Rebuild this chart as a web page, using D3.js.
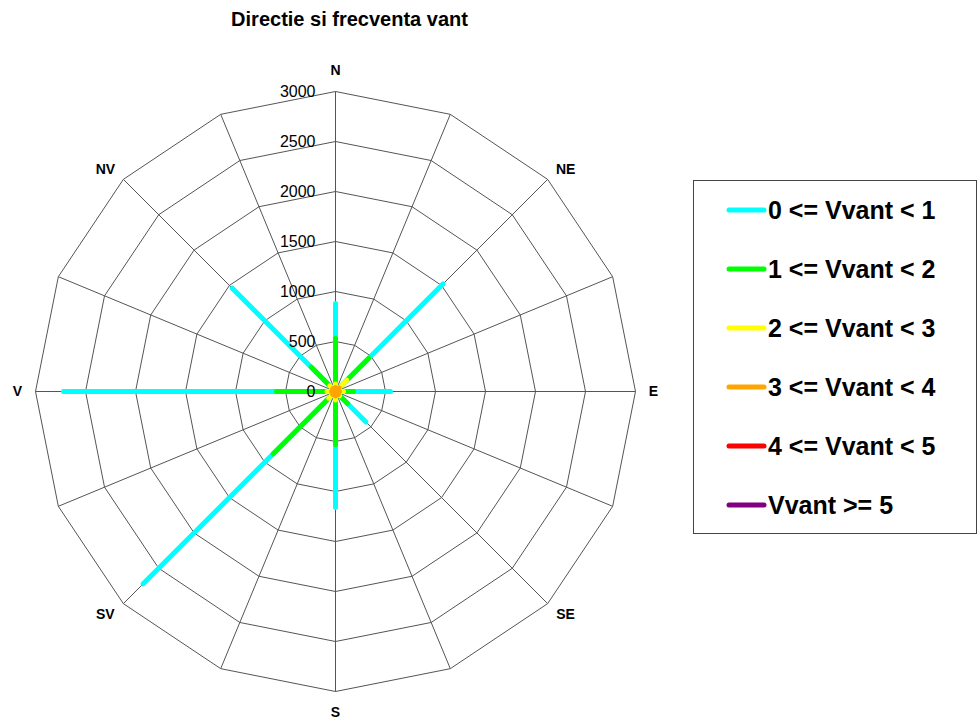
<!DOCTYPE html>
<html>
<head>
<meta charset="utf-8">
<script src="https://cdn.jsdelivr.net/npm/d3@7"></script>
<style>
  body { margin: 0; background: #fff; }
  text { font-family: "Liberation Sans", Arial, sans-serif; }
</style>
</head>
<body>
<div id="chart"></div>
<script>
// directions (16 sectors), only main ones get a label
const directions = ["N","NNE","NE","ENE","E","ESE","SE","SSE","S","SSV","SV","VSV","V","VNV","NV","NNV"];
const dirLabels = ["N","","NE","","E","","SE","","S","","SV","","V","","NV",""];

// frequency per direction, one array per speed class
const v0_1 = [880,0,1520,0,550,0,430,0,1160,0,2720,0,2720,0,1460,0];
const v1_2 = [530,0,470,0,180,0,170,0,530,0,880,0,590,0,345,0];
const v2_3 = [75,0,160,0,80,0,60,0,85,0,95,0,85,0,80,0];
const v3_4 = [40,0,50,0,40,0,40,0,45,0,40,0,40,0,40,0];
const v4_5 = [0,0,0,0,0,0,0,0,0,0,0,0,0,0,0,0];
const v5up = [0,0,0,0,0,0,0,0,0,0,0,0,0,0,0,0];

const seriesNames = ["0 <= Vvant < 1","1 <= Vvant < 2","2 <= Vvant < 3","3 <= Vvant < 4","4 <= Vvant < 5","Vvant >= 5"];
const seriesValues = [v0_1, v1_2, v2_3, v3_4, v4_5, v5up];
const colors = ["#00FFFF","#00FF00","#FFFF00","#FFA500","#FF0000","#800080"];

const radialTicks = [0,500,1000,1500,2000,2500,3000];

const width = 980, height = 722;
const cx = 335.5, cy = 391.5;

const svg = d3.select("#chart")
    .append("svg")
    .attr("width", width)
    .attr("height", height);

//scales
const r = d3.scaleLinear().domain([0,3000]).range([0,300]);
const angle = d3.scaleBand().domain(directions).range([0, 2*Math.PI]).align(0).paddingInner(0).paddingOuter(0);
const ang = d => angle(d); // start of band = direction angle

const px = (a, rad) => cx + rad*Math.sin(a);
const py = (a, rad) => cy - rad*Math.cos(a);

//grid
const grid = svg.append("g")
    .attr("fill","none")
    .attr("stroke","#555")
    .attr("stroke-width",1);

grid.selectAll("polygon")
    .data(radialTicks.slice(1))
    .enter()
    .append("polygon")
    .attr("points", function(t){
        return directions.map(d => px(ang(d), r(t)) + "," + py(ang(d), r(t))).join(" ");
    });

grid.selectAll("line")
    .data(directions)
    .enter()
    .append("line")
    .attr("x1", cx).attr("y1", cy)
    .attr("x2", d => px(ang(d), r(3000)))
    .attr("y2", d => py(ang(d), r(3000)));

//data spokes
const layers = svg.append("g")
    .selectAll("g")
    .data(seriesValues)
    .enter()
    .append("g")
    .attr("stroke", (d,i) => colors[i])
    .attr("stroke-width", 5)
    .attr("stroke-linecap","round");

layers.selectAll("line")
    .data(d => d.map((v,i) => ({dir: directions[i], v: v})).filter(o => o.v > 0))
    .enter()
    .append("line")
    .attr("x1", cx).attr("y1", cy)
    .attr("x2", d => px(ang(d.dir), r(d.v)))
    .attr("y2", d => py(ang(d.dir), r(d.v)));

//radial tick labels along N axis
svg.append("g")
    .selectAll("text")
    .data(radialTicks)
    .enter()
    .append("text")
    .attr("x", cx - 20)
    .attr("y", d => cy - r(d))
    .attr("dy", "0.35em")
    .attr("text-anchor","end")
    .attr("font-size","16px")
    .attr("fill","#000")
    .text(d => d);

//direction labels, placed just outside the outer ring
svg.append("g")
    .selectAll("text")
    .data(directions.map((d,i) => ({dir: d, label: dirLabels[i]})).filter(o => o.label))
    .enter()
    .append("text")
    .attr("x", function(d){
        const s = Math.sin(ang(d.dir));
        return px(ang(d.dir), r(3000)) + (Math.abs(s) < 0.1 ? 0 : 18*Math.sign(s));
    })
    .attr("y", function(d){
        const c = Math.cos(ang(d.dir));
        return py(ang(d.dir), r(3000)) - 21*c*Math.abs(c);
    })
    .attr("dy","0.35em")
    .attr("text-anchor","middle")
    .attr("font-size","14px")
    .attr("font-weight","bold")
    .text(d => d.label);

//title
svg.append("text")
    .attr("x", 349.5)
    .attr("y", 26)
    .attr("text-anchor","middle")
    .attr("font-size","20px")
    .attr("font-weight","bold")
    .text("Directie si frecventa vant");

//legend
const legend = svg.append("g");
legend.append("rect")
    .attr("x", 693.5).attr("y", 180.5)
    .attr("width", 283).attr("height", 353)
    .attr("fill","#fff")
    .attr("stroke","#444");

const ly = d3.scalePoint().domain(seriesNames).range([210, 505]);

const item = legend.selectAll("g")
    .data(seriesNames)
    .enter()
    .append("g")
    .attr("transform", d => "translate(0," + ly(d) + ")");

item.append("line")
    .attr("x1", 729).attr("x2", 764)
    .attr("stroke", (d,i) => colors[i])
    .attr("stroke-width", 5)
    .attr("stroke-linecap","round");

item.append("text")
    .attr("x", 768)
    .attr("dy","0.35em")
    .attr("font-size","25px")
    .attr("font-weight","bold")
    .text(d => d);
</script>
</body>
</html>
